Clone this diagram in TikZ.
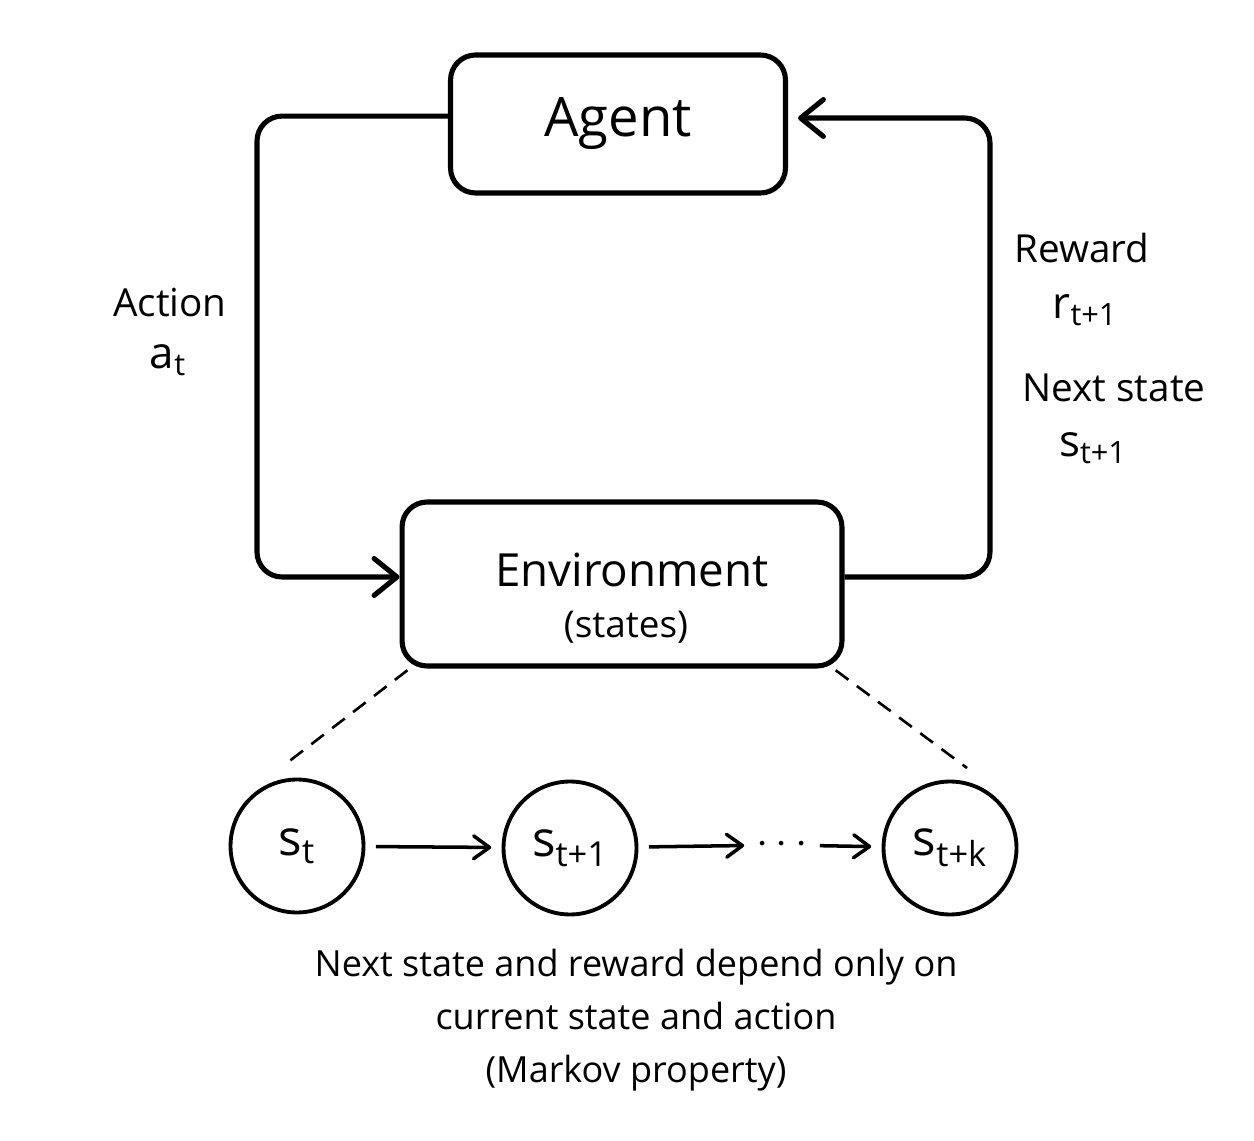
\documentclass[tikz,border=0pt]{standalone}
\usepackage{fontspec}
\setmainfont{Open Sans}
\usetikzlibrary{arrows.meta,positioning,calc}

\begin{document}
\begin{tikzpicture}[
    x=0.02cm, y=-0.02cm,
    every node/.style={font=\fontsize{22}{26}\selectfont},
    mainbox/.style={draw,line width=2.9pt,rounded corners=0.5cm,
                    align=center,inner sep=0pt},
    statenode/.style={draw,circle,line width=2.2pt,minimum size=2.66cm,
                      inner sep=0pt,outer sep=7pt,font=\fontsize{28}{32}\selectfont},
    cycleline/.style={line width=2.9pt,rounded corners=0.5cm,
                      -{Straight Barb[length=13pt,width=21pt,round]}},
    chainline/.style={line width=2pt,-{Straight Barb[length=9pt,width=13pt,round]}},
    guide/.style={line width=1.5pt,dash pattern=on 9pt off 6pt},
  ]
  \useasboundingbox (0,0) rectangle (1254,1141);

  % agent and environment
  \node[mainbox,minimum width=6.7cm,minimum height=2.76cm,
        font=\fontsize{31}{35}\selectfont] (agent) at (618,124) {Agent};
  \node[mainbox,minimum width=8.8cm,minimum height=3.28cm] (env) at (622,584) {};
  \node[font=\fontsize{26}{30}\selectfont] (envname) at (632,570) {Environment};
  \node[font=\fontsize{21}{25}\selectfont] (envsub) at (626,627) {(states)};

  % the loop
  \coordinate (lft) at (257,350);
  \coordinate (rgt) at (990,350);
  \draw[cycleline] ([yshift=4.5pt]agent.west) -| (lft) |- ([yshift=4pt]env.west);
  \draw[cycleline] ([yshift=4pt]env.east) -| (rgt) |- ([xshift=5.7pt,yshift=3.4pt]agent.east);

  \node (actlbl) at (170,303) {Action};
  \node[font=\fontsize{25}{29}\selectfont] (actsym) at (168,360) {a\textsubscript{t}};
  \node (rwdlbl) at (1082,248) {Reward};
  \node[font=\fontsize{25}{29}\selectfont] (rwdsym) at (1085,310) {r\textsubscript{t+1}};
  \node (nxtlbl) at (1114,388) {Next state};
  \node[font=\fontsize{25}{29}\selectfont] (nxtsym) at (1093,448) {s\textsubscript{t+1}};

  % state chain
  \node[statenode] (s0) at (297,846) {s\textsubscript{t}};
  \node[statenode] (s1) at (570,848) {s\textsubscript{t+1}};
  \node[statenode] (s2) at (950,848) {s\textsubscript{t+k}};
  \node[font=\fontsize{24}{28}\selectfont,inner sep=1pt,outer sep=6pt] (dots) at (782,845) {$\cdots$};
  \draw[chainline] (s0) -- (s1);
  \draw[chainline] (s1) -- (dots);
  \draw[chainline] (dots) -- (s2);

  \coordinate (dl) at (283,766);
  \coordinate (dr) at (967,768);
  \draw[guide] ([xshift=4.5pt,yshift=-1pt]env.south west) -- (dl);
  \draw[guide] ([xshift=-5pt,yshift=-1pt]env.south east) -- (dr);

  \node[align=center,font=\fontsize{20.5}{30}\selectfont] (note) at (636,1020)
    {Next state and reward depend only on\\current state and action\\(Markov property)};
\end{tikzpicture}
\end{document}
